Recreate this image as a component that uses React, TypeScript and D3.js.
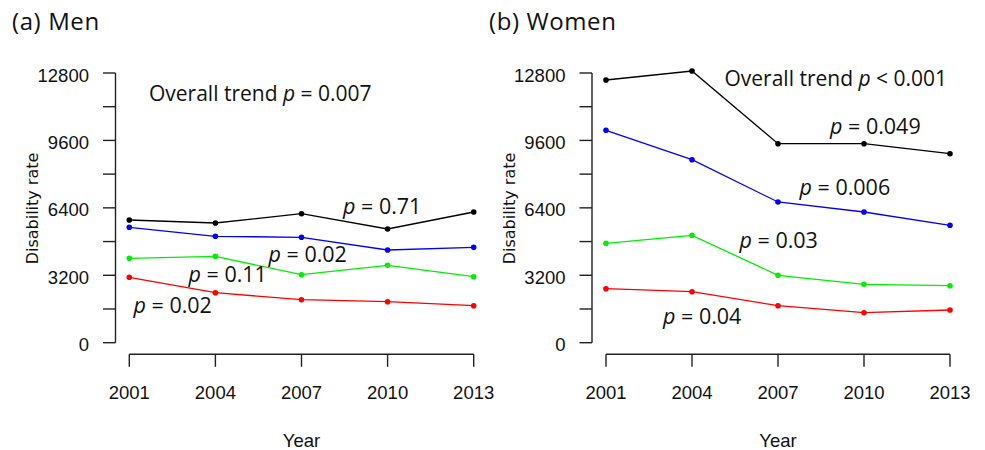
import React from "react";
import * as d3 from "d3";

const years = [2001, 2004, 2007, 2010, 2013];
const yTicks = [0, 3200, 6400, 9600, 12800];
const yMinorTicks = [1600, 4800, 8000, 11200];

const menBlack = [5823, 5681, 6122, 5396, 6203];
const menBlue = [5477, 5050, 5002, 4400, 4527];
const menGreen = [4006, 4100, 3227, 3673, 3132];
const menRed = [3104, 2373, 2041, 1946, 1756];

const womenBlack = [12468, 12895, 9445, 9445, 8970];
const womenBlue = [10081, 8685, 6678, 6203, 5572];
const womenGreen = [4717, 5097, 3199, 2772, 2705];
const womenRed = [2563, 2420, 1756, 1424, 1552];

const seriesColors = ["#000000", "#0000ff", "#00ee00", "#ff0000"];

const menTitle = "(a) Men";
const womenTitle = "(b) Women";
const menOverall = { prefix: "Overall trend ", rel: " = 0.007" };
const womenOverall = { prefix: "Overall trend ", rel: " < 0.001" };
const menPvals = [" = 0.71", " = 0.02", " = 0.11", " = 0.02"];
const womenPvals = [" = 0.049", " = 0.006", " = 0.03", " = 0.04"];

type Panel = {
  title: string;
  titleX: number;
  axisX: number;
  xRange: [number, number];
  series: number[][];
  overall: { prefix: string; rel: string };
  overallPos: [number, number];
  pvals: string[];
  pPos: [number, number][];
  yLabelX: number;
};

const panels: Panel[] = [
  {
    title: menTitle,
    titleX: 12,
    axisX: 115.5,
    xRange: [129.3, 473.7],
    series: [menBlack, menBlue, menGreen, menRed],
    overall: menOverall,
    overallPos: [149, 101],
    pvals: menPvals,
    pPos: [
      [343, 214],
      [268.5, 262],
      [188.5, 282],
      [133.5, 313],
    ],
    yLabelX: 38,
  },
  {
    title: womenTitle,
    titleX: 489,
    axisX: 592,
    xRange: [606, 950],
    series: [womenBlack, womenBlue, womenGreen, womenRed],
    overall: womenOverall,
    overallPos: [724.5, 86],
    pvals: womenPvals,
    pPos: [
      [830, 134],
      [799.5, 195],
      [739.5, 247.5],
      [663, 323.5],
    ],
    yLabelX: 514.5,
  },
];

const yTop = 73;
const yBottom = 342.7;
const xAxisY = 354.3;

const tickFont = "'Liberation Sans', Arial, sans-serif";
const labelFont = "'DejaVu Sans', Verdana, sans-serif";
const annFont = "'Open Sans', sans-serif";

function PanelView({ p }: { p: Panel }) {
  const x = d3.scaleLinear().domain([2001, 2013]).range(p.xRange);
  const y = d3.scaleLinear().domain([0, 12800]).range([yBottom, yTop]);
  const line = d3
    .line<number>()
    .x((_, i) => x(years[i]))
    .y((v) => y(v));
  const axisColor = "#222";
  return (
    <g>
      <text x={p.titleX} y={29.5} fontFamily={annFont} fontSize={24} letterSpacing={0.6} fill="#111">
        {p.title}
      </text>
      {/* y axis */}
      <line x1={p.axisX} x2={p.axisX} y1={y(0)} y2={y(12800)} stroke={axisColor} strokeWidth={1.4} />
      {yTicks.concat(yMinorTicks).map((t) => (
        <line key={t} x1={p.axisX - 12.5} x2={p.axisX} y1={y(t)} y2={y(t)} stroke={axisColor} strokeWidth={1.4} />
      ))}
      {yTicks.map((t) => (
        <text
          key={t}
          x={p.axisX - 26.5}
          y={y(t) + 8.5}
          textAnchor="end"
          fontFamily={tickFont}
          fontSize={18.5}
          fill="#111"
        >
          {t}
        </text>
      ))}
      <text
        transform={`translate(${p.yLabelX},${208.5}) rotate(-90)`}
        textAnchor="middle"
        fontFamily={labelFont}
        fontSize={16}
        fill="#111"
      >
        Disability rate
      </text>
      {/* x axis */}
      <line x1={x(2001)} x2={x(2013)} y1={xAxisY} y2={xAxisY} stroke={axisColor} strokeWidth={1.4} />
      {years.map((t) => (
        <line key={t} x1={x(t)} x2={x(t)} y1={xAxisY} y2={xAxisY + 12.5} stroke={axisColor} strokeWidth={1.4} />
      ))}
      {years.map((t) => (
        <text key={t} x={x(t)} y={398.5} textAnchor="middle" fontFamily={tickFont} fontSize={18.5} fill="#111">
          {t}
        </text>
      ))}
      <text
        x={(p.xRange[0] + p.xRange[1]) / 2}
        y={447}
        textAnchor="middle"
        fontFamily={tickFont}
        fontSize={18.5}
        fill="#111"
      >
        Year
      </text>
      {/* series */}
      {p.series.map((s, si) => (
        <g key={si}>
          <path d={line(s) || ""} fill="none" stroke={seriesColors[si]} strokeWidth={1.3} />
          {s.map((v, i) => (
            <circle key={i} cx={x(years[i])} cy={y(v)} r={2.8} fill={seriesColors[si]} />
          ))}
        </g>
      ))}
      {/* annotations */}
      <text x={p.overallPos[0]} y={p.overallPos[1]} fontFamily={annFont} fontSize={21} fill="#111">
        {p.overall.prefix}
        <tspan fontStyle="italic">p</tspan>
        {p.overall.rel}
      </text>
      {p.pvals.map((pv, i) => (
        <text key={i} x={p.pPos[i][0]} y={p.pPos[i][1]} fontFamily={annFont} fontSize={21.5} fill="#111">
          <tspan fontStyle="italic">p</tspan>
          {pv}
        </text>
      ))}
    </g>
  );
}

export default function App() {
  return (
    <svg
      width={985}
      height={450}
      style={{ position: "absolute", left: 0, top: 0, background: "#fff" }}
    >
      <rect width={985} height={450} fill="#fff" />
      {panels.map((p, i) => (
        <PanelView key={i} p={p} />
      ))}
    </svg>
  );
}
